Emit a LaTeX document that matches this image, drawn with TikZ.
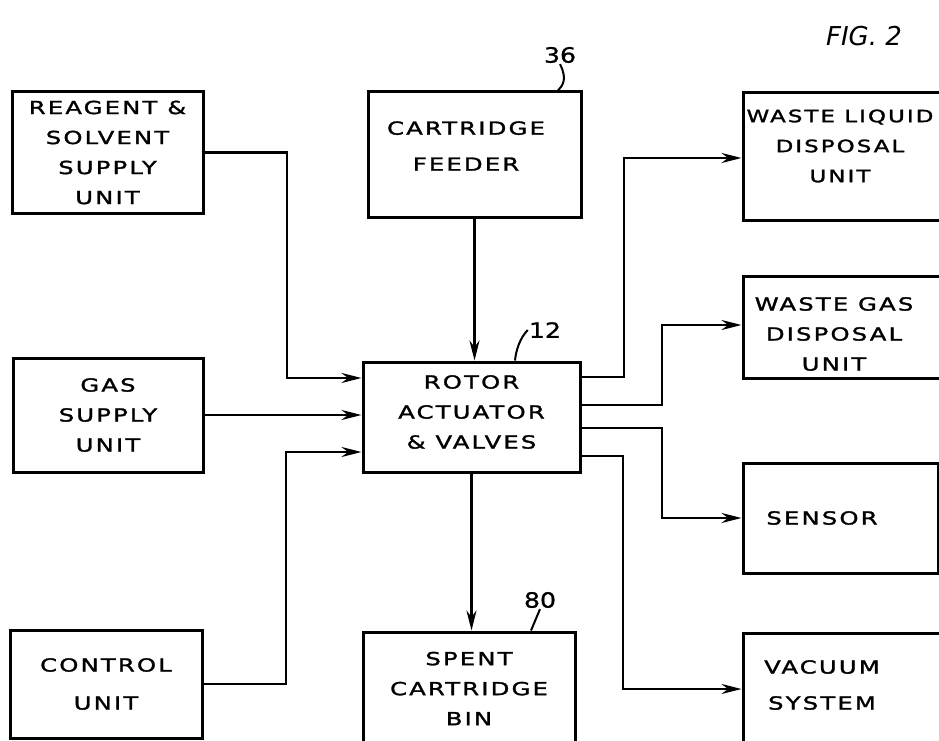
\documentclass[tikz,border=0pt]{standalone}
\usepackage{fontspec}
\usepackage{tikz}
\usetikzlibrary{arrows.meta,positioning,calc}
\newfontfamily\hand[FakeStretch=1.35,LetterSpace=12,FakeBold=1.6]{DejaVu Sans}
\newfontfamily\handnum[FakeStretch=1.2,FakeBold=1]{DejaVu Sans}
\newfontfamily\handit{DejaVu Sans Oblique}
\tikzset{
  blk/.style={draw,line width=3pt,align=center,inner sep=0pt,
    font=\hand\fontsize{18}{30}\selectfont},
  txt/.style={align=center,inner sep=0pt,font=\hand\fontsize{18}{30}\selectfont},
  flow/.style={line width=2.4pt,-{Stealth[length=20pt,width=10pt]}},
  lead/.style={line width=2pt},
  refno/.style={font=\handnum\fontsize{21}{22}\selectfont,inner sep=1pt}
}

\begin{document}
\begin{tikzpicture}[x=1pt,y=-1pt]
\useasboundingbox (0,0) rectangle (939,741);
% left column
\node[blk,minimum width=191pt,minimum height=121pt] (reagent) at (107.5,152.5) {REAGENT \&\\SOLVENT\\SUPPLY\\UNIT};
\node[blk,minimum width=190pt,minimum height=114pt] (gas) at (108,415) {GAS\\SUPPLY\\UNIT};
\node[blk,minimum width=192pt,minimum height=108pt] (control) at (106,684) {CONTROL\\[8pt]UNIT};
% middle column
\node[blk,minimum width=213pt,minimum height=125pt] (feeder) at (474.5,154.5) {};
\node[txt] (feedertxt) at (466,146) {CARTRIDGE\\[6pt]FEEDER};
\node[blk,minimum width=217pt,minimum height=110pt] (rotor) at (471.5,417) {};
\node[txt] (rotortxt) at (471.5,412) {ROTOR\\ACTUATOR\\\& VALVES};
\node[blk,minimum width=212pt,minimum height=113pt] (bin) at (469,688.5) {SPENT\\CARTRIDGE\\BIN};
% right column, boxes run off the sheet
\node[blk,minimum width=207pt,minimum height=127pt] (wliquid) at (846.5,156.5) {};
\node[blk,minimum width=207pt,minimum height=102pt] (wgas) at (846.5,327) {};
\node[blk,minimum width=195pt,minimum height=110pt] (sensor) at (840.5,518) {};
\node[blk,minimum width=207pt,minimum height=112pt] (vacuum) at (846.5,689) {};
\node[txt,font=\hand\fontsize{17}{30}\selectfont] (wliquidtxt) at (840,146) {WASTE LIQUID\\DISPOSAL\\UNIT};
\node[txt] (wgastxt) at (834,334) {WASTE GAS\\DISPOSAL\\UNIT};
\node[txt] (sensortxt) at (822,518) {SENSOR};
\node[txt] (vacuumtxt) at (822,685) {VACUUM\\[6pt]SYSTEM};

% reference numerals
\node[refno] (n36) at (560,55) {36};
\node[refno] (n12) at (545,330) {12};
\node[refno] (n80) at (540,600) {80};
\draw[lead] (n36.south) .. controls (568,80) and (562,86) .. (feeder.north -| 558,0);
\draw[lead] (n12.west) .. controls (520,338) and (516,350) .. (rotor.north -| 515,0);
\draw[lead] (n80.south) -- (bin.north -| 531,0);
\node[font=\handit\fontsize{26}{28}\selectfont] (fig) at (864,36) {FIG. 2};

% inputs
\draw[flow] (reagent.east) -| (287,378) -- (rotor.west |- 0,378);
\draw[flow] (gas.east) -- (rotor.west |- gas.east);
\draw[flow] (control.east) -| (286,452) -- (rotor.west |- 0,452);
\draw[flow] (feeder.south) -- (rotor.north -| feeder.south);
\draw[flow] (rotor.south) -- (bin.north -| rotor.south);

% outputs
\draw[flow] (rotor.east |- 0,377) -| (624,200) |- (wliquid.west |- 0,158);
\draw[flow] (rotor.east |- 0,405) -| (662,360) |- (wgas.west |- 0,325);
\draw[flow] (rotor.east |- 0,428) -| (662,480) |- (sensor.west);
\draw[flow] (rotor.east |- 0,456) -| (623,600) |- (vacuum.west);
\end{tikzpicture}
\end{document}
